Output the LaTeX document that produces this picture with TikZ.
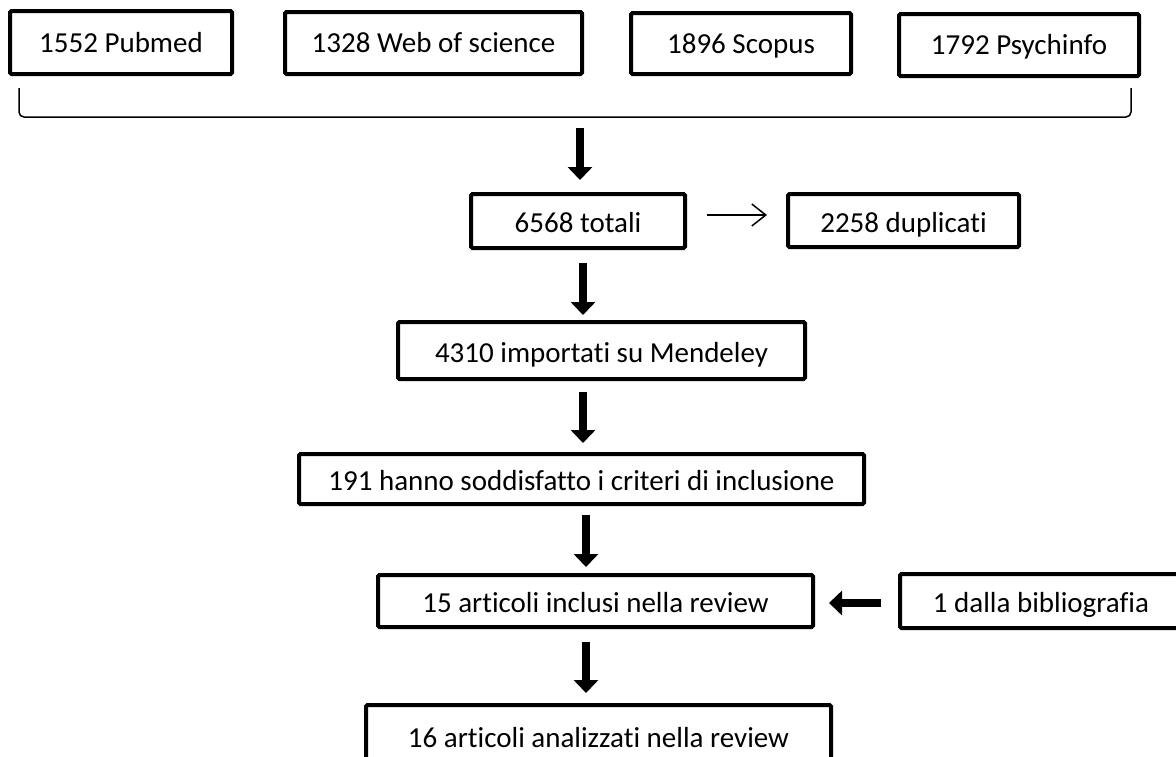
\documentclass[tikz,border=0pt]{standalone}
\usepackage{fontspec}
\setmainfont{Carlito}[Ligatures=NoCommon]
\usetikzlibrary{arrows.meta}
\begin{document}
\begin{tikzpicture}[x=1pt,y=-1pt,
  box/.style={draw, line width=4pt, rounded corners=1.5pt, inner sep=0pt,
    text height=23pt, text depth=0pt, font=\fontsize{29}{34}\selectfont},
  toprow/.style={box, text height=19pt},
  thickarr/.style={line width=8pt, -{Triangle[width=24pt,length=13pt]}},
  thinarr/.style={line width=1.5pt, -{Straight Barb[length=14pt,width=22pt,line width=1.5pt]}},
  bracketline/.style={line width=1.5pt, rounded corners=5pt}]
\useasboundingbox (0,0) rectangle (1176,756);
\fill[white] (0,0) rectangle (1176,756);
% top row
\node[toprow, minimum width=222pt, minimum height=63pt] (pub) at (121,42.5) {1552 Pubmed};
\node[toprow, minimum width=297pt, minimum height=62pt] (wos) at (433.5,43) {1328 Web of science};
\node[toprow, minimum width=220pt, minimum height=61pt] (sco) at (741,43.5) {1896 Scopus};
\node[toprow, minimum width=240pt, minimum height=62pt] (psy) at (1019,45) {1792 Psychinfo};
% bracket
\coordinate (bl) at (19,88);
\coordinate (br) at (1131,88);
\coordinate (bm) at (580,117);
\draw[bracketline] (bl) -- (19,117) -- (1131,117) -- (br);
% flow boxes
\node[box, minimum width=214pt, minimum height=54pt] (tot) at (578,221) {6568 totali};
\node[box, minimum width=231pt, minimum height=53pt] (dup) at (903.5,220.5) {2258 duplicati};
\node[box, minimum width=407pt, minimum height=57pt] (imp) at (601.5,350.5) {4310 importati su Mendeley};
\node[box, minimum width=565pt, minimum height=50pt] (inc) at (581.5,479) {191 hanno soddisfatto i criteri di inclusione};
\node[box, minimum width=435pt, minimum height=52pt] (rev) at (595.5,601) {15 articoli inclusi nella review};
\node[box, minimum width=282pt, minimum height=54pt] (bib) at (1041,601) {1 dalla bibliografia};
\node[box, minimum width=465pt, minimum height=61pt] (ana) at (598.5,735.5) {16 articoli analizzati nella review};
% arrow guide coordinates
\coordinate (xa) at (583,0);
\coordinate (xb) at (586,0);
\coordinate (yt) at (0,215);
\coordinate (yl) at (0,603);
% connectors
\draw[thickarr, shorten <=11pt, shorten >=12pt] (bm) -- (tot.north -| bm);
\draw[thickarr, shorten <=13pt, shorten >=5pt] (tot.south -| xa) -- (imp.north -| xa);
\draw[thickarr, shorten <=11pt, shorten >=9pt] (imp.south -| xa) -- (inc.north -| xa);
\draw[thickarr, shorten <=9pt, shorten >=6pt] (inc.south -| xb) -- (rev.north -| xb);
\draw[thickarr, shorten <=13pt, shorten >=10pt] (rev.south -| xb) -- (ana.north -| xb);
\draw[thickarr, shorten <=17pt, shorten >=14pt] (bib.west |- yl) -- (rev.east |- yl);
\draw[thinarr, shorten <=20pt, shorten >=19pt] (tot.east |- yt) -- (dup.west |- yt);
\end{tikzpicture}
\end{document}
